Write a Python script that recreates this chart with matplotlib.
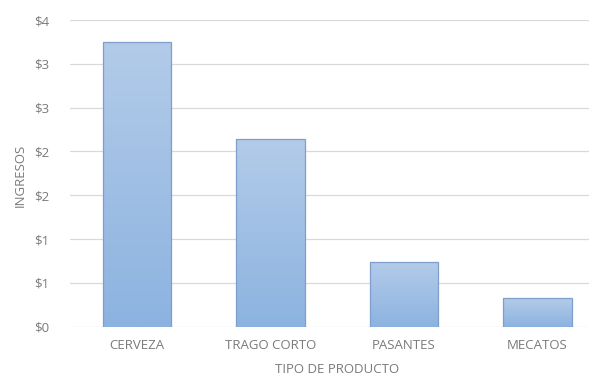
import numpy as np
import matplotlib.pyplot as plt
from matplotlib.ticker import FuncFormatter
from matplotlib.colors import LinearSegmentedColormap

productos = ["CERVEZA", "TRAGO CORTO", "PASANTES", "MECATOS"]
ingresos = [3.25, 2.14, 0.735, 0.325]
ticks_y = [0, 0.5, 1.0, 1.5, 2.0, 2.5, 3.0, 3.5]

gris = "#7a7a7a"
plt.rcParams["font.family"] = ["Open Sans", "DejaVu Sans"]

fig = plt.figure(figsize=(5.89, 3.8), dpi=100)
ax = fig.add_axes([70.25 / 589, (380 - 326.7) / 380, (589 - 70.25) / 589, 306.7 / 380])

x = np.arange(len(productos))
bars = ax.bar(x, ingresos, width=0.51, color="none", edgecolor="#7d9fc9", linewidth=0.9, zorder=3)

cmap = LinearSegmentedColormap.from_list("grad", ["#8cb3e0", "#b3cbe9"])
grad = np.linspace(0, 1, 256).reshape(-1, 1)
for b in bars:
    x0, y0 = b.get_x(), b.get_y()
    w, h = b.get_width(), b.get_height()
    im = ax.imshow(grad, cmap=cmap, origin="lower", aspect="auto",
                   extent=[x0, x0 + w, y0, y0 + h], zorder=2)
    im.set_clip_path(b)

ax.set_xlim(-0.5, -0.5 + (589 - 70.25) / 133.5)
ax.set_ylim(0, 3.5)
ax.set_yticks(ticks_y)
ax.yaxis.set_major_formatter(FuncFormatter(lambda v, p: "$%d" % int(np.floor(v + 0.5))))
ax.set_xticks(x)
ax.set_xticklabels(productos)
ax.grid(axis="y", color="#d9d9d9", linewidth=0.9, zorder=0)
ax.tick_params(axis="x", length=0, colors=gris, labelsize=9.5, pad=9)
ax.tick_params(axis="y", length=0, colors=gris, labelsize=9.5, pad=15)
for s in ax.spines.values():
    s.set_visible(False)

ax.set_ylabel("INGRESOS", color=gris, fontsize=9.5, va="center")
ax.yaxis.set_label_coords((20 - 70.25) / (589 - 70.25), (326.7 - 175) / 306.7)
ax.set_xlabel("TIPO DE PRODUCTO", color=gris, fontsize=9.5, va="center")
ax.xaxis.set_label_coords((337 - 70.25) / (589 - 70.25), -(369.5 - 326.7) / 306.7)

fig.savefig("out.png", dpi=100)
